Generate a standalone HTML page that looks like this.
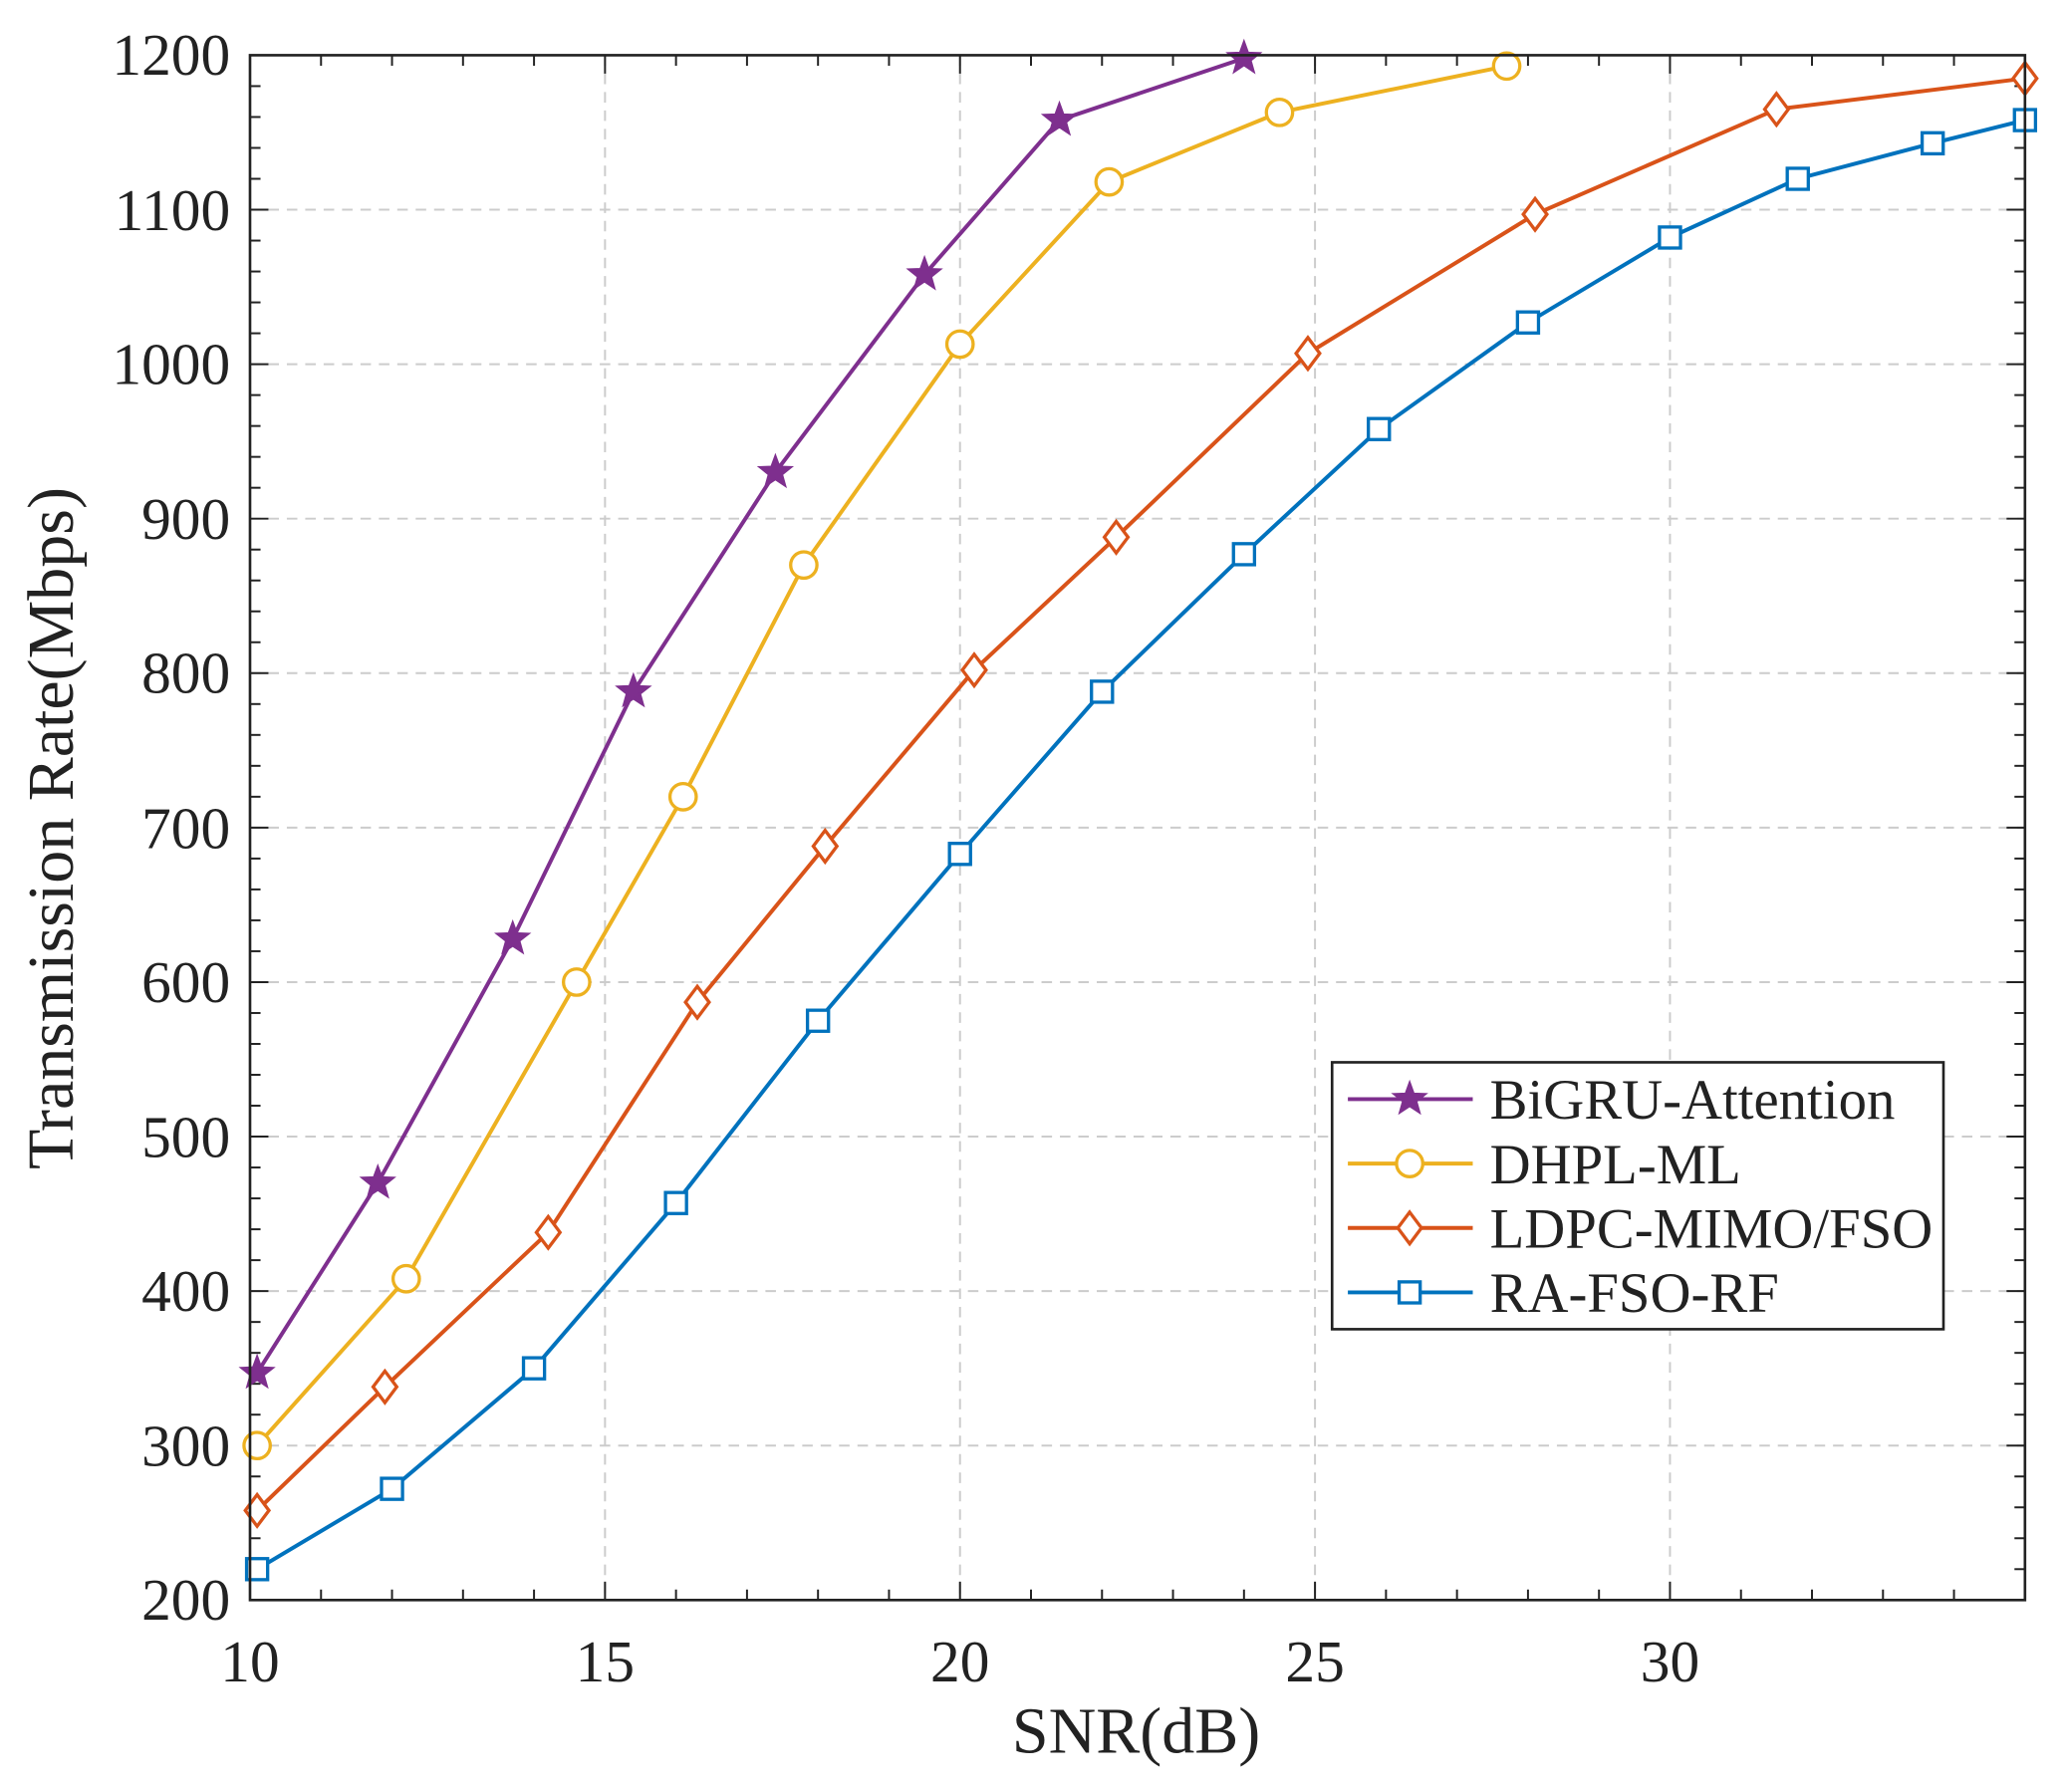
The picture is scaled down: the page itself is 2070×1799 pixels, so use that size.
<!DOCTYPE html>
<html><head><meta charset="utf-8"><style>
html,body{margin:0;padding:0;background:#fff}
svg{display:block}
text{font-family:"Liberation Serif",serif;fill:#222}
</style></head><body>
<svg id="s" width="2070" height="1799" viewBox="0 0 1568 1363" xmlns="http://www.w3.org/2000/svg">
<rect width="1568" height="1363" fill="#fff"/>
<g id="grid"></g>
<g id="series"></g>
<rect x="190" y="42" width="1350" height="1175" fill="none" stroke="#222" stroke-width="2"/>
<g font-size="45" text-anchor="end">
<text x="175" y="1232">200</text><text x="175" y="1115">300</text><text x="175" y="997">400</text>
<text x="175" y="880">500</text><text x="175" y="762">600</text><text x="175" y="645">700</text>
<text x="175" y="527">800</text><text x="175" y="410">900</text><text x="175" y="292">1000</text>
<text x="175" y="175">1100</text><text x="175" y="57">1200</text>
</g>
<g font-size="45" text-anchor="middle">
<text x="190" y="1279">10</text><text x="460" y="1279">15</text><text x="730" y="1279">20</text>
<text x="1000" y="1279">25</text><text x="1270" y="1279">30</text>
<text x="864" y="1333" font-size="50">SNR(dB)</text>
<text transform="translate(55,630) rotate(-90)" font-size="50">Transmission Rate(Mbps)</text>
</g>
<rect x="1013" y="808" width="465" height="203" fill="#fff" stroke="#222" stroke-width="2"/>
<g id="leg"></g>
<g font-size="43">
<text x="1133" y="851">BiGRU-Attention</text>
<text x="1133" y="900">DHPL-ML</text>
<text x="1133" y="949">LDPC-MIMO/FSO</text>
<text x="1133" y="998">RA-FSO-RF</text>
</g>
</svg>
<script>
var NS="http://www.w3.org/2000/svg";
function X(v){return 190+(v-10)*54}function Y(v){return 1217-(v-200)*1.175}
function el(p,t,a){var e=document.createElementNS(NS,t);for(var k in a)e.setAttribute(k,a[k]);p.appendChild(e);return e}
var g=document.getElementById('grid');
for(var x=15;x<=30;x+=5)el(g,'line',{x1:X(x),x2:X(x),y1:42,y2:1217,stroke:'#ccc','stroke-width':1.5,'stroke-dasharray':'8,6'});
for(var y=300;y<=1100;y+=100)el(g,'line',{x1:190,x2:1540,y1:Y(y),y2:Y(y),stroke:'#ccc','stroke-width':1.5,'stroke-dasharray':'8,6'});
for(var x=10;x<=35;x++){var L=(x%5==0)?14:8;el(g,'line',{x1:X(x),x2:X(x),y1:1217,y2:1217-L,stroke:'#222','stroke-width':1.5});el(g,'line',{x1:X(x),x2:X(x),y1:42,y2:42+L,stroke:'#222','stroke-width':1.5});}
for(var y=200;y<=1200;y+=20){var L=(y%100==0)?14:8;el(g,'line',{x1:190,x2:190+L,y1:Y(y),y2:Y(y),stroke:'#222','stroke-width':1.5});el(g,'line',{x1:1540,x2:1540-L,y1:Y(y),y2:Y(y),stroke:'#222','stroke-width':1.5});}
function marker(p,type,cx,cy,c){
 if(type=='star'){var pts=[];for(var i=0;i<10;i++){var r=i%2?5:12,a=-Math.PI/2+i*Math.PI/5;pts.push((cx+r*Math.cos(a)).toFixed(1)+','+(cy+r*Math.sin(a)).toFixed(1));}
  el(p,'polygon',{points:pts.join(' '),fill:c,stroke:c,'stroke-width':2});}
 else if(type=='circ')el(p,'circle',{cx:cx,cy:cy,r:10,fill:'#fff',stroke:c,'stroke-width':2.5});
 else if(type=='dia')el(p,'polygon',{points:(cx)+','+(cy-12)+' '+(cx+9)+','+cy+' '+cx+','+(cy+12)+' '+(cx-9)+','+cy,fill:'#fff',stroke:c,'stroke-width':2.5});
 else el(p,'rect',{x:cx-8,y:cy-8,width:16,height:16,fill:'#fff',stroke:c,'stroke-width':2.5});
}
var S=[
['star','#7E2F8E',[[10.1,347],[11.8,470],[13.7,628],[15.4,788],[17.4,930],[19.5,1058],[21.4,1158],[24,1198]]],
['circ','#EDB120',[[10.1,300],[12.2,408],[14.6,600],[16.1,720],[17.8,870],[20,1013],[22.1,1118],[24.5,1163],[27.7,1193]]],
['dia','#D95319',[[10.1,258],[11.9,338],[14.2,438],[16.3,587],[18.1,688],[20.2,802],[22.2,888],[24.9,1007],[28.1,1097],[31.5,1165],[35,1185]]],
['sq','#0072BD',[[10.1,220],[12,272],[14,350],[16,457],[18,575],[20,683],[22,788],[24,877],[25.9,958],[28,1027],[30,1082],[31.8,1120],[33.7,1143],[35,1158]]]];
var sg=document.getElementById('series'),lg=document.getElementById('leg');
S.forEach(function(s,i){
 el(sg,'polyline',{points:s[2].map(function(p){return X(p[0])+','+Y(p[1])}).join(' '),fill:'none',stroke:s[1],'stroke-width':3});
 s[2].forEach(function(p){marker(sg,s[0],X(p[0]),Y(p[1]),s[1])});
 var ly=836+i*49;el(lg,'line',{x1:1025,x2:1120,y1:ly,y2:ly,stroke:s[1],'stroke-width':3});marker(lg,s[0],1072,ly,s[1]);
});
</script>
</body></html>
